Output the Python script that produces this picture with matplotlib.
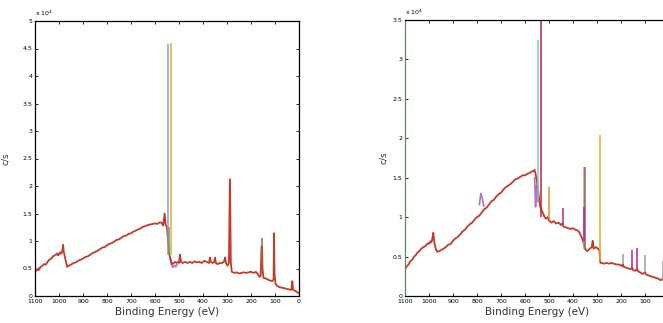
import matplotlib
matplotlib.use("Agg")
import matplotlib.pyplot as plt
import numpy as np

nan = np.nan

# ---- left survey (c/s, x 1e4) ----
left_be = [1100, 1092, 1085, 1078, 1070, 1062, 1055, 1048, 1040, 1032, 1025, 1018, 1010, 1004,
           998, 992, 986, 983, 980, 975, 970, 966, 960, 950, 940, 930, 920, 910, 900, 890,
           880, 870, 860, 850, 840, 830, 820, 810, 800, 790, 780, 770, 760, 750, 740, 730,
           720, 710, 700, 690, 680, 670, 660, 650, 640, 630, 620, 610, 600, 590, 580, 572,
           566, 560, 556, 550, 546, 540, 532, 528, 522, 516, 510, 505, 500, 496, 492, 485,
           475, 465, 455, 445, 435, 425, 415, 405, 395, 385, 375, 371, 367, 360, 354, 350,
           346, 340, 330, 320, 312, 308, 304, 298, 292, 290, 288, 286, 284, 280, 270, 260,
           250, 240, 230, 220, 210, 200, 190, 180, 172, 165, 160, 156, 154, 152, 148, 140,
           130, 120, 112, 106, 104, 102, 98, 90, 80, 70, 60, 50, 40, 32, 28, 25, 20, 10, 5, 0]
left_cps = [0.45, 0.48, 0.47, 0.52, 0.55, 0.58, 0.57, 0.62, 0.66, 0.68, 0.72, 0.74, 0.76, 0.74,
            0.78, 0.77, 0.82, 0.93, 0.80, 0.70, 0.60, 0.53, 0.55, 0.57, 0.60, 0.61, 0.64, 0.66, 0.68, 0.71,
            0.72, 0.75, 0.78, 0.80, 0.82, 0.85, 0.88, 0.89, 0.92, 0.95, 0.96, 0.99, 1.02, 1.03, 1.06, 1.09,
            1.10, 1.13, 1.14, 1.17, 1.19, 1.21, 1.23, 1.26, 1.27, 1.29, 1.30, 1.31, 1.32, 1.31, 1.34, 1.33,
            1.28, 1.50, 1.30, 1.25, 1.00, 0.75, 0.62, 0.58, 0.60, 0.62, 0.60, 0.62, 0.60, 0.75, 0.62, 0.60,
            0.62, 0.60, 0.62, 0.60, 0.63, 0.61, 0.62, 0.60, 0.64, 0.62, 0.60, 0.70, 0.62, 0.60, 0.61, 0.70,
            0.60, 0.58, 0.60, 0.60, 0.63, 0.70, 0.60, 0.55, 0.60, 1.40, 2.12, 1.45, 0.60, 0.44, 0.42, 0.43,
            0.41, 0.42, 0.43, 0.42, 0.43, 0.44, 0.42, 0.44, 0.40, 0.35, 0.36, 0.90, 0.90, 0.50, 0.33, 0.32,
            0.30, 0.28, 0.27, 0.30, 1.14, 0.40, 0.22, 0.18, 0.16, 0.15, 0.14, 0.13, 0.12, 0.11, 0.27, 0.12,
            0.10, 0.08, 0.06, 0.05]
left_purple_be = [1100, 1094, 1088, 1082, nan, 1008, 1000, 994, 988, nan, 538, 532, 526, 520, 514, 508]
left_purple_cps = [0.47, 0.46, 0.50, 0.51, nan, 0.78, 0.75, 0.80, 0.79, nan, 0.70, 0.58, 0.52, 0.56, 0.53, 0.57]
left_spike_be = [546, 533, 542, 154]
left_spike_lo = [0.75, 0.75, 0.75, 0.40]
left_spike_hi = [4.58, 4.60, 1.25, 1.05]
left_spike_col = ["#8a9cc8", "#e0b030", "#6aa070", "#a0604a"]

# ---- right survey (c/s, x 1e4) ----
right_be = [1100, 1092, 1085, 1078, 1070, 1062, 1055, 1048, 1040, 1032, 1024, 1016, 1008, 1000,
            992, 986, 982, 978, 972, 966, 958, 950, 940, 930, 920, 910, 900, 890, 880, 870,
            860, 850, 840, 830, 820, 810, 800, 790, 780, 770, 760, 750, 740, 730, 720, 710,
            700, 690, 680, 670, 660, 650, 640, 630, 620, 610, 600, 590, 580, 572, 566, 560,
            556, 550, 544, 538, 530, 525, 518, 512, 505, 500, 497, 490, 480, 470, 460, 450,
            445, 440, 430, 420, 410, 400, 390, 380, 372, 365, 358, 352, 346, 340, 330, 322,
            318, 314, 305, 296, 290, 286, 280, 270, 260, 250, 240, 230, 220, 210, 200, 196,
            192, 188, 180, 170, 160, 154, 150, 140, 133, 128, 120, 110, 100, 95, 85, 75,
            65, 55, 45, 35, 25, 20]
right_cps = [0.34, 0.38, 0.40, 0.44, 0.46, 0.50, 0.52, 0.55, 0.57, 0.60, 0.62, 0.63, 0.66, 0.67,
             0.68, 0.72, 0.80, 0.68, 0.60, 0.56, 0.57, 0.58, 0.60, 0.62, 0.65, 0.66, 0.70, 0.73, 0.75, 0.78,
             0.82, 0.84, 0.88, 0.91, 0.93, 0.97, 1.00, 1.02, 1.06, 1.10, 1.12, 1.16, 1.20, 1.22, 1.26, 1.29,
             1.31, 1.35, 1.38, 1.40, 1.42, 1.45, 1.48, 1.49, 1.51, 1.53, 1.53, 1.55, 1.56, 1.58, 1.58, 1.60,
             1.55, 1.45, 1.30, 1.15, 1.08, 1.05, 1.00, 0.98, 1.00, 0.96, 0.95, 0.93, 0.95, 0.92, 0.93, 0.90,
             0.92, 0.88, 0.87, 0.86, 0.85, 0.86, 0.84, 0.83, 0.80, 0.75, 0.70, 0.62, 0.58, 0.57, 0.60, 0.62,
             0.70, 0.60, 0.62, 0.60, 0.58, 0.42, 0.42, 0.41, 0.42, 0.41, 0.42, 0.41, 0.40, 0.40, 0.39, 0.38,
             0.40, 0.37, 0.36, 0.35, 0.34, 0.36, 0.33, 0.32, 0.34, 0.31, 0.30, 0.28, 0.30, 0.27, 0.26, 0.25,
             0.24, 0.23, 0.22, 0.20, 0.22, 0.18]
right_purple_be = [1000, 994, 988, 982, nan, 790, 784, 778, 772, nan, 560, 556, 552, 548]
right_purple_cps = [0.66, 0.70, 0.69, 0.80, nan, 1.16, 1.30, 1.24, 1.14, nan, 1.50, 1.13, 1.40, 1.20]
right_spike_be = [546, 533, 500, 442, 354, 350, 353, 288, 192, 154, 133, 100, 25]
right_spike_lo = [1.20, 1.00, 0.98, 0.90, 0.60, 0.60, 0.70, 0.45, 0.40, 0.36, 0.34, 0.30, 0.20]
right_spike_hi = [3.25, 3.60, 1.38, 1.12, 1.64, 1.64, 1.13, 2.04, 0.53, 0.58, 0.61, 0.52, 0.45]
right_spike_col = ["#80c8c8", "#c0203a", "#e09020", "#c0208a", "#b0a4a8", "#a06050",
                   "#c0208a", "#e8a820", "#a89898", "#c0208a", "#c0208a", "#a89898", "#a89898"]

xticks = [1100, 1000, 900, 800, 700, 600, 500, 400, 300, 200, 100, 0]
xticklabels = [str(t) for t in xticks]


def draw(ax, be, cps, pbe, pcps, sbe, slo, shi, scol, ymax):
    ax.plot(pbe, pcps, color="#b070d0", lw=1.2)
    ax.plot(be, cps, color="#c83a28", lw=1.3)
    ax.vlines(sbe, slo, shi, colors=scol, lw=1.1)
    ax.set_xlim(1100, 0)
    ax.set_ylim(0, ymax)
    ax.set_xticks(xticks)
    ax.set_xticklabels(xticklabels)
    yt = np.arange(0, ymax + 0.01, 0.5)
    ax.set_yticks(yt)
    ax.set_yticklabels(["%g" % v for v in yt])
    ax.tick_params(direction="in", length=2.5, width=0.6, labelsize=4.5,
                   top=True, right=True, pad=2)
    for s in ax.spines.values():
        s.set_linewidth(0.9)
    ax.set_xlabel("Binding Energy (eV)", fontsize=7.5, color="#333333", labelpad=2)
    ax.set_ylabel("c/s", fontsize=6.5, color="#333333")
    ax.text(0.0, 1.012, r"x 10$^{4}$", transform=ax.transAxes, fontsize=4.5, va="bottom")


fig = plt.figure(figsize=(6.63, 3.23), dpi=100)
W, H = 663.0, 323.0
ax1 = fig.add_axes([35 / W, (H - 296) / H, 264 / W, 275 / H])
ax2 = fig.add_axes([405 / W, (H - 296) / H, 264 / W, 276 / H])

draw(ax1, left_be, left_cps, left_purple_be, left_purple_cps,
     left_spike_be, left_spike_lo, left_spike_hi, left_spike_col, 5)
draw(ax2, right_be, right_cps, right_purple_be, right_purple_cps,
     right_spike_be, right_spike_lo, right_spike_hi, right_spike_col, 3.5)

ax1.yaxis.set_label_coords(-0.095, 0.5)
ax2.yaxis.set_label_coords(-0.065, 0.5)
ax2.spines["left"].set_color("#5a8a5a")
# the right panel runs past the picture edge, so its "0" label is not shown
ax2.set_xticklabels(xticklabels[:-1] + [""])

plt.savefig("out.png", dpi=100)
